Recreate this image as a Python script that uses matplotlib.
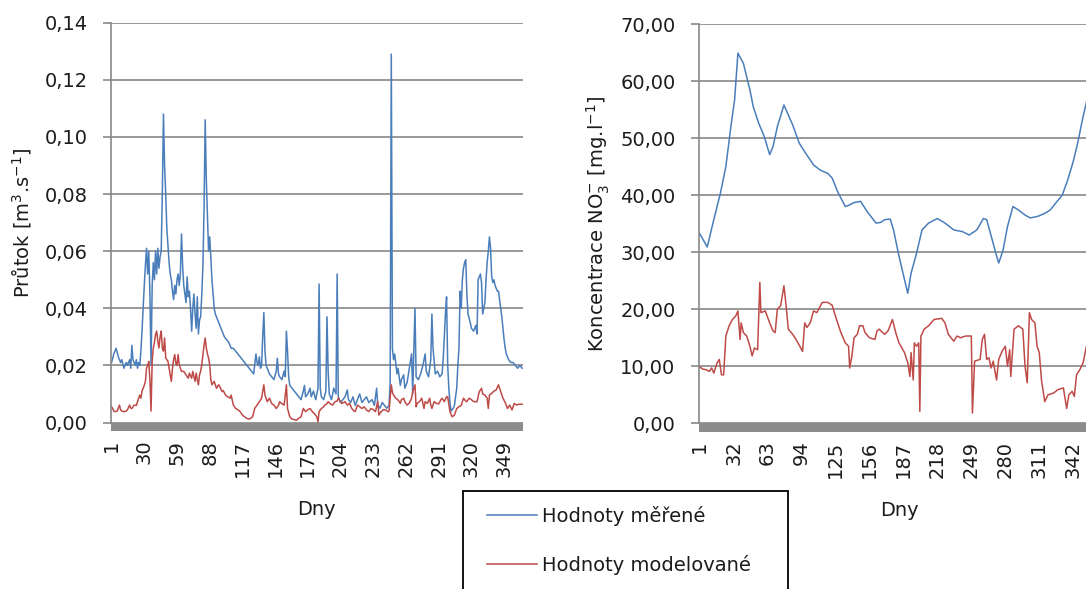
import matplotlib

matplotlib.use("Agg")
import matplotlib.pyplot as plt
from matplotlib.legend_handler import HandlerLine2D
from matplotlib.lines import Line2D
from matplotlib.patches import Rectangle

# --- data ------------------------------------------------------------------
flow_days = [
    1, 3, 5, 7, 9, 10, 12, 14, 15, 17, 18, 19, 20, 22, 23, 24, 25, 26, 27, 28,
    29, 30, 31, 32, 33, 34, 35, 36, 37, 38, 39, 40, 41, 42, 43, 44, 45, 46, 47, 48,
    49, 50, 51, 52, 53, 54, 55, 56, 57, 58, 59, 60, 61, 62, 63, 64, 65, 66, 67, 68,
    69, 70, 71, 72, 73, 74, 75, 76, 77, 78, 79, 80, 81, 82, 83, 84, 85, 86, 87, 88,
    89, 90, 91, 92, 93, 95, 97, 99, 101, 103, 105, 107, 109, 111, 113, 115, 117, 119, 121, 123,
    125, 127, 129, 130, 131, 132, 133, 134, 135, 136, 137, 138, 139, 141, 143, 145, 147, 148, 149, 150,
    152, 154, 155, 156, 157, 158, 159, 161, 163, 165, 167, 169, 171, 172, 173, 175, 177, 178, 180, 182,
    184, 185, 186, 187, 189, 191, 192, 193, 194, 196, 198, 200, 201, 202, 204, 206, 208, 210, 211, 213,
    215, 217, 219, 221, 223, 225, 227, 229, 232, 234, 236, 237, 239, 241, 243, 245, 247, 248, 249, 250,
    251, 252, 254, 255, 257, 258, 260, 261, 263, 265, 267, 268, 269, 270, 271, 273, 275, 277, 279, 280,
    282, 284, 285, 286, 288, 290, 292, 294, 295, 296, 297, 298, 299, 300, 301, 302, 304, 305, 307, 308,
    309, 310, 311, 312, 313, 314, 315, 316, 317, 319, 320, 322, 324, 325, 326, 327, 328, 329, 330, 331,
    332, 333, 334, 335, 336, 337, 338, 339, 340, 341, 342, 343, 344, 345, 346, 347, 348, 349, 350, 351,
    353, 355, 357, 359, 361, 363, 365,
]
flow_meas = [
    0.021, 0.024, 0.026, 0.023, 0.021, 0.022, 0.019, 0.021, 0.020, 0.022, 0.019, 0.027, 0.022, 0.020, 0.022, 0.019, 0.021, 0.020, 0.025, 0.032,
    0.040, 0.048, 0.055, 0.061, 0.052, 0.060, 0.045, 0.020, 0.048, 0.056, 0.050, 0.060, 0.052, 0.061, 0.054, 0.058, 0.060, 0.080, 0.108, 0.090,
    0.080, 0.068, 0.062, 0.056, 0.052, 0.050, 0.046, 0.043, 0.048, 0.045, 0.050, 0.052, 0.048, 0.052, 0.066, 0.055, 0.048, 0.045, 0.042, 0.051,
    0.044, 0.046, 0.040, 0.032, 0.040, 0.045, 0.038, 0.033, 0.044, 0.031, 0.036, 0.037, 0.045, 0.055, 0.075, 0.106, 0.085, 0.072, 0.060, 0.065,
    0.058, 0.050, 0.045, 0.040, 0.038, 0.036, 0.034, 0.032, 0.030, 0.029, 0.028, 0.026, 0.026, 0.025, 0.024, 0.023, 0.022, 0.021, 0.020, 0.019,
    0.018, 0.017, 0.024, 0.021, 0.020, 0.023, 0.019, 0.020, 0.030, 0.0385, 0.025, 0.020, 0.019, 0.017, 0.016, 0.015, 0.018, 0.0225, 0.017, 0.016,
    0.015, 0.018, 0.016, 0.032, 0.025, 0.016, 0.013, 0.012, 0.011, 0.010, 0.009, 0.008, 0.011, 0.013, 0.009, 0.010, 0.012, 0.009, 0.011, 0.008,
    0.012, 0.0485, 0.012, 0.009, 0.008, 0.011, 0.037, 0.018, 0.010, 0.008, 0.012, 0.010, 0.052, 0.009, 0.007, 0.008, 0.009, 0.0114, 0.008, 0.007,
    0.009, 0.006, 0.008, 0.010, 0.007, 0.008, 0.009, 0.007, 0.008, 0.006, 0.012, 0.006, 0.005, 0.007, 0.006, 0.005, 0.006, 0.014, 0.129, 0.026,
    0.022, 0.024, 0.017, 0.019, 0.013, 0.015, 0.0167, 0.012, 0.014, 0.019, 0.024, 0.010, 0.026, 0.040, 0.016, 0.015, 0.017, 0.020, 0.024, 0.018,
    0.016, 0.022, 0.038, 0.026, 0.017, 0.018, 0.016, 0.017, 0.022, 0.030, 0.038, 0.044, 0.020, 0.012, 0.007, 0.004, 0.005, 0.006, 0.012, 0.020,
    0.026, 0.046, 0.040, 0.050, 0.054, 0.056, 0.057, 0.045, 0.038, 0.035, 0.033, 0.032, 0.034, 0.031, 0.050, 0.051, 0.052, 0.049, 0.038, 0.040,
    0.042, 0.050, 0.056, 0.060, 0.065, 0.061, 0.051, 0.049, 0.050, 0.048, 0.047, 0.046, 0.046, 0.043, 0.040, 0.037, 0.033, 0.029, 0.026, 0.024,
    0.022, 0.021, 0.021, 0.020, 0.019, 0.020, 0.019,
]

flow_model_days = [
    1, 2, 3, 4, 6, 7, 8, 9, 10, 12, 14, 15, 17, 18, 19, 21, 23, 24, 25, 26,
    27, 28, 29, 30, 31, 32, 33, 34, 35, 36, 37, 38, 39, 40, 41, 42, 43, 44, 45, 46,
    47, 48, 49, 50, 51, 52, 53, 54, 55, 56, 57, 58, 59, 60, 61, 62, 63, 65, 67, 69,
    70, 72, 73, 75, 76, 77, 78, 79, 80, 81, 82, 83, 84, 85, 86, 87, 88, 89, 90, 92,
    94, 96, 97, 99, 100, 102, 104, 106, 107, 109, 111, 113, 115, 117, 119, 121, 123, 124, 126, 128,
    130, 132, 134, 136, 137, 139, 141, 143, 145, 147, 149, 150, 152, 154, 156, 157, 159, 161, 163, 165,
    167, 169, 171, 173, 175, 177, 179, 181, 183, 184, 185, 187, 189, 190, 192, 193, 195, 197, 199, 201,
    202, 204, 205, 207, 208, 210, 212, 214, 216, 217, 219, 221, 223, 225, 227, 229, 231, 233, 235, 237,
    238, 240, 242, 244, 246, 247, 249, 250, 251, 253, 255, 257, 258, 260, 261, 263, 265, 267, 268, 270,
    271, 272, 274, 276, 278, 279, 281, 283, 284, 285, 287, 289, 291, 293, 294, 296, 298, 299, 301, 303,
    305, 307, 309, 311, 313, 315, 316, 318, 320, 322, 324, 325, 327, 329, 330, 332, 334, 335, 336, 338,
    340, 342, 344, 346, 348, 350, 352, 354, 356, 358, 360, 362, 365,
]
flow_model = [
    0.0055, 0.0049, 0.0040, 0.0038, 0.0040, 0.0050, 0.0061, 0.0045, 0.0040, 0.0038, 0.0040, 0.0044, 0.0061, 0.0050, 0.0049, 0.0061, 0.0060, 0.0073, 0.0085, 0.0096,
    0.0085, 0.0110, 0.0120, 0.0130, 0.0144, 0.0190, 0.0200, 0.0214, 0.0150, 0.0040, 0.0214, 0.0261, 0.0280, 0.0308, 0.0320, 0.0285, 0.0261, 0.0300, 0.0320, 0.0261,
    0.0250, 0.0296, 0.0226, 0.0220, 0.0214, 0.0190, 0.0167, 0.0144, 0.0190, 0.0220, 0.0238, 0.0208, 0.0200, 0.0238, 0.0202, 0.0190, 0.0179, 0.0179, 0.0167, 0.0155,
    0.0173, 0.0155, 0.0179, 0.0144, 0.0173, 0.0150, 0.0132, 0.0167, 0.0180, 0.0202, 0.0238, 0.0270, 0.0296, 0.0261, 0.0240, 0.0226, 0.0202, 0.0150, 0.0132, 0.0144,
    0.0120, 0.0132, 0.0125, 0.0108, 0.0112, 0.0096, 0.0090, 0.0085, 0.0096, 0.0061, 0.0049, 0.0045, 0.0038, 0.0026, 0.0020, 0.0014, 0.0012, 0.0014, 0.0020, 0.0050,
    0.0061, 0.0073, 0.0085, 0.0132, 0.0096, 0.0073, 0.0085, 0.0066, 0.0061, 0.0049, 0.0060, 0.0073, 0.0066, 0.0061, 0.0132, 0.0049, 0.0020, 0.0012, 0.0010, 0.0008,
    0.0015, 0.0020, 0.0049, 0.0038, 0.0045, 0.0049, 0.0038, 0.0030, 0.0020, 0.0002, 0.0038, 0.0049, 0.0055, 0.0061, 0.0066, 0.0073, 0.0065, 0.0061, 0.0073, 0.0075,
    0.0085, 0.0072, 0.0067, 0.0070, 0.0073, 0.0061, 0.0067, 0.0049, 0.0040, 0.0038, 0.0061, 0.0055, 0.0049, 0.0055, 0.0044, 0.0038, 0.0049, 0.0045, 0.0038, 0.0073,
    0.0026, 0.0038, 0.0045, 0.0044, 0.0038, 0.0040, 0.0132, 0.0105, 0.0096, 0.0085, 0.0079, 0.0067, 0.0080, 0.0085, 0.0073, 0.0061, 0.0068, 0.0085, 0.0108, 0.0132,
    0.0055, 0.0067, 0.0073, 0.0085, 0.0049, 0.0073, 0.0067, 0.0085, 0.0061, 0.0049, 0.0073, 0.0067, 0.0065, 0.0080, 0.0085, 0.0073, 0.0090, 0.0090, 0.0038, 0.0020,
    0.0026, 0.0049, 0.0055, 0.0060, 0.0085, 0.0075, 0.0073, 0.0085, 0.0080, 0.0073, 0.0073, 0.0073, 0.0108, 0.0120, 0.0100, 0.0096, 0.0085, 0.0049, 0.0096, 0.0102,
    0.0110, 0.0114, 0.0132, 0.0108, 0.0085, 0.0070, 0.0049, 0.0061, 0.0044, 0.0067, 0.0061, 0.0064, 0.0064,
]

no3_days = [
    1, 8, 14, 20, 25, 30, 33, 36, 41, 47, 50, 55, 60, 65, 68, 72, 78, 86, 92, 98,
    105, 111, 118, 122, 127, 134, 137, 142, 148, 154, 162, 166, 170, 175, 178, 183, 188, 191, 194, 199,
    204, 210, 218, 225, 233, 241, 247, 254, 260, 263, 268, 273, 274, 278, 282, 287, 292, 298, 303, 310,
    316, 321, 326, 332, 337, 342, 346, 351, 356,
]
no3_meas = [
    33.3, 30.9, 35.7, 40.3, 45.0, 52.6, 56.7, 64.9, 63.1, 58.4, 55.5, 52.6, 50.3, 47.1, 48.5, 52.0, 55.8, 52.3, 49.1, 47.3,
    45.3, 44.4, 43.8, 43.0, 40.6, 38.0, 38.2, 38.7, 38.9, 37.1, 35.1, 35.2, 35.7, 35.8, 33.9, 29.3, 25.2, 22.8, 26.3, 29.8,
    33.9, 35.1, 35.9, 35.1, 33.9, 33.6, 33.0, 33.9, 35.9, 35.7, 32.2, 28.7, 28.1, 30.4, 34.5, 38.0, 37.4, 36.5, 36.0, 36.3,
    36.8, 37.4, 38.6, 40.0, 42.7, 45.9, 49.1, 53.8, 57.9,
]

no3_model_days = [
    1, 4, 7, 10, 12, 14, 17, 19, 21, 23, 25, 28, 31, 34, 36, 38, 39, 41, 44, 47,
    49, 51, 54, 56, 57, 61, 65, 68, 70, 72, 75, 78, 80, 82, 86, 90, 95, 97, 99, 102,
    105, 108, 113, 118, 122, 126, 130, 134, 137, 138, 140, 142, 145, 147, 150, 152, 156, 161, 163, 165,
    168, 170, 173, 177, 180, 183, 188, 191, 193, 194, 196, 197, 199, 201, 202, 203, 206, 210, 215, 222,
    225, 228, 233, 236, 239, 244, 249, 250, 252, 257, 259, 261, 263, 265, 267, 269, 272, 274, 277, 280,
    282, 284, 285, 288, 292, 296, 298, 300, 302, 304, 307, 309, 311, 313, 316, 319, 324, 328, 333, 336,
    338, 341, 343, 345, 348, 351, 354, 356,
]
no3_model = [
    9.9, 9.5, 9.4, 9.1, 9.7, 8.8, 10.6, 11.2, 8.5, 8.5, 15.3, 17.1, 18.2, 18.8, 19.7, 14.7, 17.6, 15.9, 15.3, 13.5,
    11.8, 13.2, 12.9, 24.7, 19.4, 19.7, 17.6, 16.2, 15.9, 20.0, 20.6, 24.1, 20.6, 16.5, 15.6, 14.4, 12.6, 17.6, 16.8, 17.6,
    19.7, 19.4, 21.2, 21.2, 20.7, 18.2, 15.9, 14.1, 13.5, 9.7, 11.8, 15.0, 15.6, 17.1, 17.1, 15.9, 15.0, 14.7, 16.2, 16.5,
    15.9, 15.6, 16.2, 18.2, 15.9, 14.1, 12.4, 10.6, 8.2, 12.4, 7.6, 14.1, 13.5, 14.1, 2.1, 15.3, 16.5, 17.1, 18.2, 18.4,
    17.6, 15.6, 14.4, 15.3, 15.0, 15.3, 15.3, 1.8, 10.9, 11.2, 14.7, 15.6, 11.2, 11.5, 9.7, 10.9, 7.6, 11.2, 12.6, 13.5,
    10.0, 12.9, 8.2, 16.5, 17.1, 16.5, 10.0, 7.1, 19.4, 18.2, 17.6, 13.5, 12.4, 7.6, 3.8, 5.0, 5.3, 5.9, 6.2, 2.6,
    5.0, 5.6, 4.7, 8.5, 9.4, 10.6, 13.5, 13.8,
]

flow_xticks = [1, 30, 59, 88, 117, 146, 175, 204, 233, 262, 291, 320, 349]
flow_yticklabels = ["0,00", "0,02", "0,04", "0,06", "0,08", "0,10", "0,12", "0,14"]
no3_xticks = [1, 32, 63, 94, 125, 156, 187, 218, 249, 280, 311, 342]
no3_yticklabels = ["0,00", "10,00", "20,00", "30,00", "40,00", "50,00", "60,00", "70,00"]
series_labels = ["Hodnoty měřené", "Hodnoty modelované"]

# --- style -------------------------------------------------------------------
plt.rcParams["font.family"] = ["DejaVu Sans"]
plt.rcParams["mathtext.default"] = "regular"

BLUE = "#4a7ebb"
RED = "#be4b48"
GRID = "#878787"
FLOOR = "#8c8c8c"
TEXT = "#1c1c1c"
FS = 14

W, H = 1086, 589


def box(left, top, right, bottom):
    """Pixel box (origin top-left) -> figure fraction rect."""
    return (left / W, 1 - bottom / H, (right - left) / W, (bottom - top) / H)


def style_axes(ax, ymax, ystep, yticklabels, xticks, ylabel, ylabel_x):
    ax.set_xlim(0.5, 365.5)
    ax.set_ylim(0, ymax)
    ax.set_yticks([i * ystep for i in range(len(yticklabels))], yticklabels)
    ax.set_xticks(xticks, [str(t) for t in xticks], rotation=90)
    ax.grid(axis="y", color=GRID, lw=1.2)
    ax.set_axisbelow(True)
    for side in ("top", "right", "bottom"):
        ax.spines[side].set_visible(False)
    ax.spines["left"].set_color(GRID)
    ax.spines["left"].set_linewidth(1.2)
    ax.tick_params(axis="y", length=6, width=1.2, color=GRID, pad=11,
                   labelsize=FS, labelcolor=TEXT)
    ax.tick_params(axis="x", length=0, pad=12.5, labelsize=FS, labelcolor=TEXT)
    # thick grey "floor" under the category axis
    ax.add_patch(Rectangle((0, -0.021), 1, 0.021, transform=ax.transAxes,
                           clip_on=False, facecolor=FLOOR, edgecolor="none"))
    ax.set_xlabel("Dny", fontsize=FS, color=TEXT)
    ax.xaxis.set_label_coords(0.5, -0.195)
    ax.set_ylabel(ylabel, fontsize=FS, color=TEXT)
    ax.yaxis.set_label_coords(ylabel_x, 0.5)


fig = plt.figure(figsize=(W / 100, H / 100), dpi=100)
ax1 = fig.add_axes(box(111, 22.7, 522.7, 422.5))
ax2 = fig.add_axes(box(699, 24, 1099, 423.3))

l_meas, = ax1.plot(flow_days, flow_meas, color=BLUE, lw=1.1)
l_model, = ax1.plot(flow_model_days, flow_model, color=RED, lw=1.1)
ax2.plot(no3_days, no3_meas, color=BLUE, lw=1.1)
ax2.plot(no3_model_days, no3_model, color=RED, lw=1.1)

style_axes(ax1, 0.14, 0.02, flow_yticklabels, flow_xticks,
           "Průtok [m$^{3}$.s$^{-1}$]", -0.187)
style_axes(ax2, 70, 10, no3_yticklabels, no3_xticks,
           "Koncentrace NO$_{3}^{-}$ [mg.l$^{-1}$]", -0.2175)

leg = fig.legend(
    [l_meas, l_model], series_labels,
    loc="upper left", bbox_to_anchor=box(463, 490.7, 788, 589), mode="expand",
    fontsize=FS, frameon=True, fancybox=False, framealpha=1, edgecolor="black",
    borderpad=0.8, labelspacing=1.47, handlelength=3.0, handletextpad=0.25,
    borderaxespad=0, handler_map={Line2D: HandlerLine2D(xpad=0.42)},
)
leg.get_frame().set_linewidth(1.3)
for t in leg.get_texts():
    t.set_color(TEXT)

fig.savefig("out.png", dpi=100)
